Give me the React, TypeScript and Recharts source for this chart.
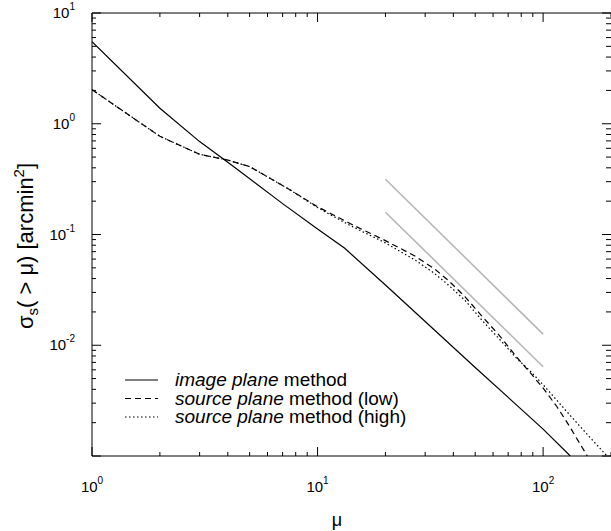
import { LineChart, Line, XAxis, YAxis, Customized } from 'recharts';

// cumulative cross section vs magnification
const imagePlane = [
  { x: 1, y: 5.5 },
  { x: 2, y: 1.38 },
  { x: 3, y: 0.69 },
  { x: 4, y: 0.45 },
  { x: 7, y: 0.19 },
  { x: 10, y: 0.112 },
  { x: 13.2, y: 0.075 },
  { x: 20, y: 0.035 },
  { x: 50, y: 0.0063 },
  { x: 100, y: 0.00175 },
  { x: 132, y: 0.001 },
];

const sourceLow = [
  { x: 1, y: 2.03 },
  { x: 2, y: 0.77 },
  { x: 3, y: 0.53 },
  { x: 4, y: 0.47 },
  { x: 5, y: 0.41 },
  { x: 7.5, y: 0.255 },
  { x: 10, y: 0.178 },
  { x: 14, y: 0.125 },
  { x: 20, y: 0.088 },
  { x: 27, y: 0.064 },
  { x: 33, y: 0.049 },
  { x: 38, y: 0.0385 },
  { x: 45, y: 0.0275 },
  { x: 54, y: 0.018 },
  { x: 65, y: 0.0118 },
  { x: 76, y: 0.0079 },
  { x: 88, y: 0.0056 },
  { x: 100, y: 0.0041 },
  { x: 115, y: 0.0028 },
  { x: 130, y: 0.0019 },
  { x: 157, y: 0.001 },
];

const sourceHigh = [
  { x: 1, y: 2.03 },
  { x: 2, y: 0.77 },
  { x: 3, y: 0.53 },
  { x: 4, y: 0.47 },
  { x: 5, y: 0.41 },
  { x: 7.5, y: 0.255 },
  { x: 10, y: 0.175 },
  { x: 14, y: 0.12 },
  { x: 20, y: 0.084 },
  { x: 27, y: 0.059 },
  { x: 33, y: 0.0445 },
  { x: 38, y: 0.035 },
  { x: 45, y: 0.0255 },
  { x: 54, y: 0.0165 },
  { x: 65, y: 0.011 },
  { x: 76, y: 0.0077 },
  { x: 88, y: 0.0058 },
  { x: 100, y: 0.0044 },
  { x: 130, y: 0.0024 },
  { x: 160, y: 0.0015 },
  { x: 192, y: 0.001 },
];

// mu^-2 guide lines
const guideUpper = [
  { x: 20, y: 0.316 },
  { x: 100, y: 0.0126 },
];
const guideLower = [
  { x: 20, y: 0.159 },
  { x: 100, y: 0.0064 },
];

const xTicks = [1, 2, 3, 4, 5, 6, 7, 8, 9, 10, 20, 30, 40, 50, 60, 70, 80, 90, 100, 200];
const yTicks = [
  0.001, 0.002, 0.003, 0.004, 0.005, 0.006, 0.007, 0.008, 0.009,
  0.01, 0.02, 0.03, 0.04, 0.05, 0.06, 0.07, 0.08, 0.09,
  0.1, 0.2, 0.3, 0.4, 0.5, 0.6, 0.7, 0.8, 0.9,
  1, 2, 3, 4, 5, 6, 7, 8, 9, 10,
];

const legendItems = [
  { italic: 'image plane', rest: ' method', dash: undefined },
  { italic: 'source plane', rest: ' method (low)', dash: '6 4' },
  { italic: 'source plane', rest: ' method (high)', dash: '1.5 2.5' },
];

const FONT = '"Liberation Sans", Arial, Helvetica, sans-serif';

const exponent = (v: number) => Math.round(Math.log10(v));
const isMajor = (v: number) => Math.abs(Math.log10(v) - exponent(v)) < 1e-6;

const BottomTick = (props: any) => {
  const { x, y, payload } = props;
  const major = isMajor(payload.value);
  return (
    <g>
      <line x1={x} y1={y} x2={x} y2={y - (major ? 9 : 4)} stroke="#000" />
      {major && (
        <text x={x} y={y + 36} textAnchor="middle" fontSize={15} fontFamily={FONT} fill="#000">
          10<tspan dy={-8} fontSize={10}>{exponent(payload.value)}</tspan>
        </text>
      )}
    </g>
  );
};

const TopTick = (props: any) => {
  const { x, y, payload } = props;
  const major = isMajor(payload.value);
  return <line x1={x} y1={y} x2={x} y2={y + (major ? 9 : 4)} stroke="#000" />;
};

// the bottom edge (10^-3) carries no label in the original
const LeftTick = (props: any) => {
  const { x, y, payload } = props;
  const major = isMajor(payload.value);
  const labelled = major && payload.value > 0.0015;
  return (
    <g>
      <line x1={x} y1={y} x2={x + (major ? 9 : 4)} y2={y} stroke="#000" />
      {labelled && (
        <text x={x - 17} y={y + 5} textAnchor="end" fontSize={15} fontFamily={FONT} fill="#000">
          10<tspan dy={-8} fontSize={10}>{exponent(payload.value)}</tspan>
        </text>
      )}
    </g>
  );
};

const RightTick = (props: any) => {
  const { x, y, payload } = props;
  const major = isMajor(payload.value);
  return <line x1={x} y1={y} x2={x - (major ? 9 : 5)} y2={y} stroke="#000" />;
};

const Annotations = () => (
  <g fontFamily={FONT} fill="#000">
    {legendItems.map((item, i) => {
      const y = 380 + i * 18.5;
      return (
        <g key={i}>
          <line x1={125} y1={y} x2={158} y2={y} stroke="#000" strokeWidth={1.2} strokeDasharray={item.dash} />
          <text x={175} y={y + 6} fontSize={19}>
            <tspan fontStyle="italic">{item.italic}</tspan>
            {item.rest}
          </text>
        </g>
      );
    })}
    <text x={337} y={526} textAnchor="middle" fontSize={18}>μ</text>
    <text transform="translate(33,246) rotate(-90)" textAnchor="middle" fontSize={22}>
      σ<tspan dy={5} fontSize={15}>s</tspan>
      <tspan dy={-5}>( &gt; μ) [arcmin</tspan>
      <tspan dy={-9} fontSize={15}>2</tspan>
      <tspan dy={9}>]</tspan>
    </text>
  </g>
);

export default function App() {
  return (
    <div style={{ position: 'absolute', left: 0, top: 0, background: '#fff' }}>
      <LineChart width={611} height={531} margin={{ top: 12, right: -1, bottom: 74, left: 91 }}>
        <XAxis
          xAxisId="b"
          dataKey="x"
          type="number"
          scale="log"
          domain={[1, 200]}
          allowDataOverflow
          ticks={xTicks}
          interval={0}
          height={1}
          tickSize={0}
          tickMargin={0}
          tickLine={false}
          tick={<BottomTick />}
          axisLine={{ stroke: '#000' }}
        />
        <XAxis
          xAxisId="t"
          orientation="top"
          dataKey="x"
          type="number"
          scale="log"
          domain={[1, 200]}
          allowDataOverflow
          ticks={xTicks}
          interval={0}
          height={1}
          tickSize={0}
          tickMargin={0}
          tickLine={false}
          tick={<TopTick />}
          axisLine={{ stroke: '#000' }}
        />
        <YAxis
          yAxisId="l"
          type="number"
          scale="log"
          domain={[0.001, 10]}
          allowDataOverflow
          ticks={yTicks}
          interval={0}
          width={1}
          tickSize={0}
          tickMargin={0}
          tickLine={false}
          tick={<LeftTick />}
          axisLine={{ stroke: '#000' }}
        />
        <YAxis
          yAxisId="r"
          orientation="right"
          type="number"
          scale="log"
          domain={[0.001, 10]}
          allowDataOverflow
          ticks={yTicks}
          interval={0}
          width={1}
          tickSize={0}
          tickMargin={0}
          tickLine={false}
          tick={<RightTick />}
          axisLine={false}
        />
        <Line xAxisId="b" yAxisId="l" data={guideUpper} dataKey="y" stroke="#b4b4b4" strokeWidth={1.5} dot={false} isAnimationActive={false} />
        <Line xAxisId="b" yAxisId="l" data={guideLower} dataKey="y" stroke="#b4b4b4" strokeWidth={1.5} dot={false} isAnimationActive={false} />
        <Line xAxisId="b" yAxisId="l" data={sourceHigh} dataKey="y" stroke="#000" strokeWidth={1.2} strokeDasharray="1.5 2.5" dot={false} isAnimationActive={false} />
        <Line xAxisId="b" yAxisId="l" data={sourceLow} dataKey="y" stroke="#000" strokeWidth={1.2} strokeDasharray="6 4" dot={false} isAnimationActive={false} />
        <Line xAxisId="b" yAxisId="l" data={imagePlane} dataKey="y" stroke="#000" strokeWidth={1.2} dot={false} isAnimationActive={false} />
        <Customized component={Annotations} />
      </LineChart>
    </div>
  );
}
